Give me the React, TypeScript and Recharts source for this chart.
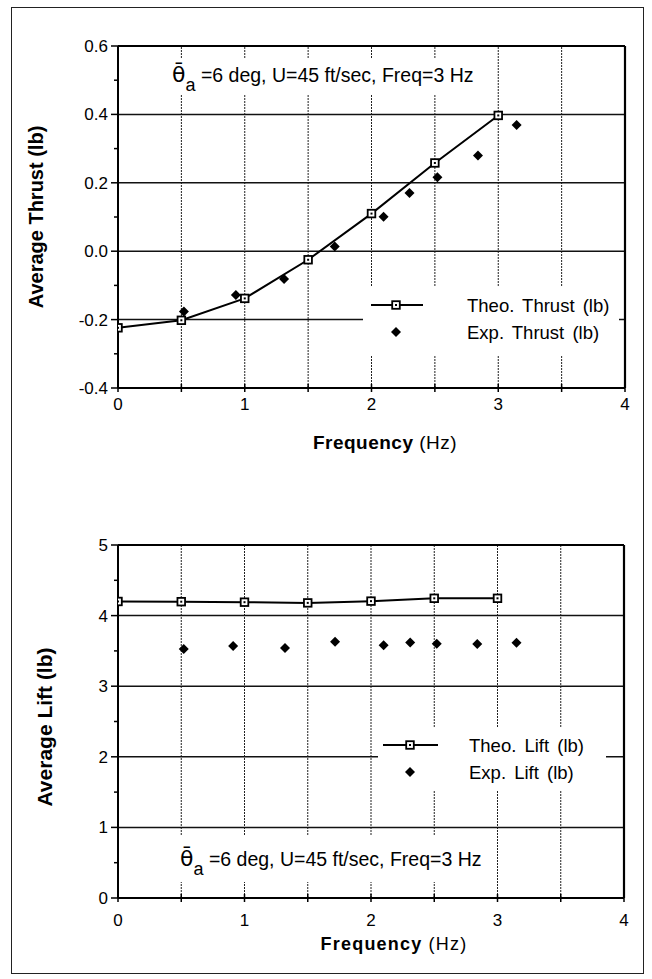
import React from 'react';
import { ComposedChart, Line, Scatter, XAxis, YAxis, ReferenceLine } from 'recharts';

// ---------- data ----------
const freqTicks = [0, 0.5, 1, 1.5, 2, 2.5, 3, 3.5, 4];
const freqGrid = [0.5, 1, 1.5, 2, 2.5, 3, 3.5];

const thrustTheoFreq = [0, 0.5, 1, 1.5, 2, 2.5, 3];
const thrustTheoVals = [-0.224, -0.202, -0.138, -0.025, 0.11, 0.258, 0.397];
const thrustExpFreq = [0.52, 0.93, 1.31, 1.71, 2.095, 2.3, 2.52, 2.84, 3.145];
const thrustExpVals = [-0.176, -0.128, -0.081, 0.014, 0.101, 0.17, 0.216, 0.28, 0.369];

const liftTheoFreq = [0, 0.5, 1, 1.5, 2, 2.5, 3];
const liftTheoVals = [4.2, 4.197, 4.19, 4.18, 4.205, 4.245, 4.245];
const liftExpFreq = [0.52, 0.91, 1.32, 1.716, 2.1, 2.31, 2.52, 2.84, 3.15];
const liftExpVals = [3.526, 3.568, 3.54, 3.63, 3.58, 3.62, 3.6, 3.596, 3.615];

const thrustTicks = [-0.4, -0.3, -0.2, -0.1, 0, 0.1, 0.2, 0.3, 0.4, 0.5, 0.6];
const thrustGrid = [-0.2, 0, 0.2, 0.4];
const liftTicks = [0, 0.5, 1, 1.5, 2, 2.5, 3, 3.5, 4, 4.5, 5];
const liftGrid = [1, 2, 3, 4];

const thrustTheoLabel = 'Theo. Thrust (lb)';
const thrustExpLabel = 'Exp. Thrust (lb)';
const liftTheoLabel = 'Theo. Lift (lb)';
const liftExpLabel = 'Exp. Lift (lb)';
const annotationText = '=6 deg, U=45 ft/sec, Freq=3 Hz';

const zip = (fs: number[], vs: number[]) => fs.map((f, i) => ({ f, v: vs[i] }));
const thrustTheo = zip(thrustTheoFreq, thrustTheoVals);
const thrustExp = zip(thrustExpFreq, thrustExpVals);
const liftTheo = zip(liftTheoFreq, liftTheoVals);
const liftExp = zip(liftExpFreq, liftExpVals);

// ---------- styles ----------
const tickFont = '"Liberation Sans", Arial, sans-serif';
const textFont = '"Liberation Sans", Arial, sans-serif';

const SquareDot = (p: any) => {
  const { cx, cy, index } = p;
  if (cx == null || cy == null) return <g key={`sq${index}`} />;
  return (
    <g key={`sq${index}`}>
      <rect x={cx - 3.8} y={cy - 3.8} width={7.6} height={7.6} fill="#fff" stroke="#000" strokeWidth={1.8} />
      <rect x={cx - 1} y={cy - 1} width={2} height={2} fill="#000" />
    </g>
  );
};

const Diamond = (p: any) => {
  const { cx, cy } = p;
  if (cx == null || cy == null) return <g />;
  const r = 5;
  return <polygon points={`${cx},${cy - r} ${cx + r},${cy} ${cx},${cy + r} ${cx - r},${cy}`} fill="#000" />;
};

const makeYTick = (isMajor: (v: number) => boolean, fmt: (v: number) => string) => (p: any) => {
  const { x, y, payload } = p;
  const v = payload.value;
  const major = isMajor(v);
  return (
    <g key={`yt${v}`}>
      <line x1={x - (major ? 7 : 4)} x2={x} y1={y} y2={y} stroke="#000" strokeWidth={1.5} />
      {major && (
        <text x={x - 10} y={y + 6} textAnchor="end" fontFamily={tickFont} fontSize={17} fill="#000">
          {fmt(v)}
        </text>
      )}
    </g>
  );
};

const makeXTick = (labelDy: number) => (p: any) => {
  const { x, y, payload } = p;
  const v = payload.value;
  const isInt = Math.abs(v - Math.round(v)) < 1e-9;
  return (
    <g key={`xt${v}`}>
      <line x1={x} x2={x} y1={y - 4} y2={y + 4} stroke="#000" strokeWidth={1.5} />
      {isInt && (
        <text x={x} y={y + labelDy} textAnchor="middle" fontFamily={tickFont} fontSize={17} fill="#000">
          {v}
        </text>
      )}
    </g>
  );
};

const thrustMajor = (v: number) => Math.abs(v * 5 - Math.round(v * 5)) < 1e-6;
const liftMajor = (v: number) => Math.abs(v - Math.round(v)) < 1e-6;

const abs = (l: number, t: number, extra: React.CSSProperties = {}): React.CSSProperties => ({
  position: 'absolute',
  left: l,
  top: t,
  ...extra,
});

const Annotation = ({ left, top, width, height, textLeft, baseline, size }: any) => (
  <div style={abs(left, top, { width, height, background: '#fff' })}>
    <div
      style={{
        position: 'absolute',
        left: textLeft,
        top: baseline - 19,
        fontFamily: textFont,
        fontSize: size,
        whiteSpace: 'nowrap',
        lineHeight: '22px',
        color: '#000',
      }}
    >
      <span style={{ fontFamily: '"DejaVu Sans", sans-serif', fontSize: 22 }}>{'\u03B8\u0304'}</span>
      <span style={{ position: 'relative', top: 9, fontSize: 18 }}>a</span>
      <span> {annotationText}</span>
    </div>
  </div>
);

const LegendBox = ({ left, top, width, height, lineX1, lineX2, markX, row1, row2, textLeft, theo, exp }: any) => (
  <div style={abs(left, top, { width, height, background: '#fff' })}>
    <svg width={width} height={height} style={{ position: 'absolute', left: 0, top: 0 }}>
      <line x1={lineX1} x2={lineX2} y1={row1} y2={row1} stroke="#000" strokeWidth={2} />
      <rect x={markX - 3.8} y={row1 - 3.8} width={7.6} height={7.6} fill="#fff" stroke="#000" strokeWidth={1.8} />
      <rect x={markX - 1} y={row1 - 1} width={2} height={2} fill="#000" />
      <polygon points={`${markX},${row2 - 5} ${markX + 5},${row2} ${markX},${row2 + 5} ${markX - 5},${row2}`} fill="#000" />
      <text x={textLeft} y={row1 + 6.5} fontFamily={textFont} fontSize={18.5} wordSpacing={3} fill="#000">
        {theo}
      </text>
      <text x={textLeft} y={row2 + 6.5} fontFamily={textFont} fontSize={18.5} wordSpacing={3} fill="#000">
        {exp}
      </text>
    </svg>
  </div>
);

const YLabel = ({ cx, cy, text, size }: any) => (
  <div
    style={abs(cx, cy, {
      transform: 'translate(-50%, -50%) rotate(-90deg)',
      fontFamily: textFont,
      fontWeight: 'bold',
      fontSize: size,
      whiteSpace: 'nowrap',
      color: '#000',
    })}
  >
    {text}
  </div>
);

const XLabel = ({ cx, cy, size, spacing }: any) => (
  <div
    style={abs(cx, cy, {
      transform: 'translate(-50%, -50%)',
      fontFamily: textFont,
      fontSize: size,
      letterSpacing: spacing,
      whiteSpace: 'nowrap',
      color: '#000',
    })}
  >
    <span style={{ fontWeight: 'bold' }}>Frequency</span> (Hz)
  </div>
);

export default function App() {
  return (
    <div style={{ position: 'absolute', left: 0, top: 0, width: 652, height: 979, background: '#fff', overflow: 'hidden' }}>
      {/* outer frame */}
      <div style={abs(11, 7, { width: 633, height: 967, border: '1.5px solid #222', boxSizing: 'border-box' })} />

      {/* Top chart */}
      <div style={abs(0, 0)}>
        <ComposedChart width={652} height={470} margin={{ top: 46, right: 27, bottom: 42, left: 0 }}>
          <XAxis
            dataKey="f"
            type="number"
            domain={[0, 4]}
            ticks={freqTicks}
            interval={0}
            height={40}
            tickSize={0}
            tickMargin={0}
            tickLine={false}
            axisLine={{ stroke: '#000', strokeWidth: 2 }}
            tick={makeXTick(22)}
            allowDataOverflow
          />
          <YAxis
            type="number"
            domain={[-0.4, 0.6]}
            ticks={thrustTicks}
            interval={0}
            width={118}
            tickSize={0}
            tickMargin={0}
            tickLine={false}
            axisLine={{ stroke: '#000', strokeWidth: 2 }}
            tick={makeYTick(thrustMajor, (v) => v.toFixed(1))}
            allowDataOverflow
          />
          {freqGrid.map((g) => (
            <ReferenceLine key={`vx${g}`} x={g} stroke="#222" strokeWidth={1} strokeDasharray="2 1" />
          ))}
          {thrustGrid.map((g) => (
            <ReferenceLine key={`hy${g}`} y={g} stroke="#111" strokeWidth={1.5} />
          ))}
          <ReferenceLine y={0.6} stroke="#000" strokeWidth={2.2} />
          <ReferenceLine x={4} stroke="#000" strokeWidth={2.2} />
          <Line
            data={thrustTheo}
            dataKey="v"
            stroke="#000"
            strokeWidth={2}
            dot={SquareDot}
            activeDot={false}
            isAnimationActive={false}
            type="linear"
          />
          <Scatter data={thrustExp} dataKey="v" fill="#000" shape={Diamond} isAnimationActive={false} />
        </ComposedChart>
      </div>

      {/* Bottom chart */}
      <div style={abs(0, 500)}>
        <ComposedChart width={652} height={470} margin={{ top: 45, right: 28, bottom: 32, left: 0 }}>
          <XAxis
            dataKey="f"
            type="number"
            domain={[0, 4]}
            ticks={freqTicks}
            interval={0}
            height={40}
            tickSize={0}
            tickMargin={0}
            tickLine={false}
            axisLine={{ stroke: '#000', strokeWidth: 2 }}
            tick={makeXTick(28)}
            allowDataOverflow
          />
          <YAxis
            type="number"
            domain={[0, 5]}
            ticks={liftTicks}
            interval={0}
            width={118}
            tickSize={0}
            tickMargin={0}
            tickLine={false}
            axisLine={{ stroke: '#000', strokeWidth: 2 }}
            tick={makeYTick(liftMajor, (v) => String(v))}
            allowDataOverflow
          />
          {freqGrid.map((g) => (
            <ReferenceLine key={`vx${g}`} x={g} stroke="#222" strokeWidth={1} strokeDasharray="2 1" />
          ))}
          {liftGrid.map((g) => (
            <ReferenceLine key={`hy${g}`} y={g} stroke="#111" strokeWidth={1.5} />
          ))}
          <ReferenceLine y={5} stroke="#000" strokeWidth={2.2} />
          <ReferenceLine x={4} stroke="#000" strokeWidth={2.2} />
          <Line
            data={liftTheo}
            dataKey="v"
            stroke="#000"
            strokeWidth={2}
            dot={SquareDot}
            activeDot={false}
            isAnimationActive={false}
            type="linear"
          />
          <Scatter data={liftExp} dataKey="v" fill="#000" shape={Diamond} isAnimationActive={false} />
        </ComposedChart>
      </div>

      {/* overlays */}
      <Annotation left={163} top={58} width={320} height={36} textLeft={9} baseline={25} size={19.5} />
      <Annotation left={174} top={836} width={316} height={46} textLeft={6} baseline={31} size={19.5} />

      <LegendBox
        left={363}
        top={287}
        width={256}
        height={68}
        lineX1={8}
        lineX2={60}
        markX={33}
        row1={18}
        row2={45}
        textLeft={104}
        theo={thrustTheoLabel}
        exp={thrustExpLabel}
      />
      <LegendBox
        left={378}
        top={728}
        width={228}
        height={62}
        lineX1={5}
        lineX2={60}
        markX={32}
        row1={17}
        row2={44}
        textLeft={91}
        theo={liftTheoLabel}
        exp={liftExpLabel}
      />

      <YLabel cx={36} cy={217} text="Average Thrust (lb)" size={20} />
      <YLabel cx={45} cy={727} text="Average Lift (lb)" size={21} />
      <XLabel cx={385} cy={443} size={19} spacing={0.5} />
      <XLabel cx={394} cy={944} size={18} spacing={1.2} />
    </div>
  );
}
